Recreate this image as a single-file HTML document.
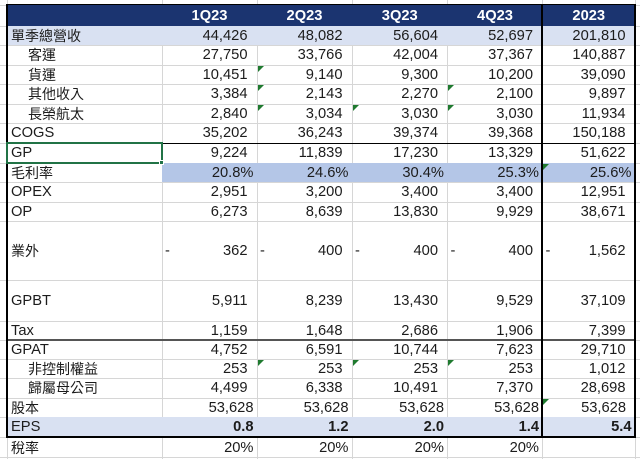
<!DOCTYPE html>
<html><head><meta charset="utf-8">
<style>
*{margin:0;padding:0;box-sizing:border-box}
html,body{width:640px;height:459px;overflow:hidden;background:#fff}
body{position:relative;font-family:"Liberation Sans","Noto Sans CJK TC",sans-serif;font-size:14.7px;color:#1c1c1c}
.h{position:absolute;left:0;width:640px;height:1px;background:#d6d6d6}
.vl{position:absolute;top:0;height:459px;width:1px;background:#d6d6d6}
.fill{position:absolute}
.r{position:absolute;left:0;width:640px}
.c{position:absolute;top:0;bottom:0;display:flex;align-items:center;justify-content:flex-end;padding-right:9.5px;line-height:18px;white-space:nowrap}
.a{left:7px;width:155px;justify-content:flex-start;padding-left:4px;padding-right:0}
.in{padding-left:21px}
.b{left:162px;width:95px}
.cc{left:257px;width:95px}
.d{left:352px;width:95.5px}
.e{left:447.5px;width:95px}
.f{left:542.5px;width:92.5px}
.p .b,.p .cc,.p .d,.p .e,.p .f{padding-right:3.5px}
.cj{font-size:14px}
.sp{justify-content:space-between;padding-left:3px}
.hd .c{color:#fff;font-weight:bold;justify-content:center;padding-right:0}
.bd{font-weight:bold}
.tri{position:absolute;width:0;height:0;border-top:6px solid #1f7a2f;border-right:6px solid transparent}
.blk{position:absolute;background:#000}
</style></head><body>

<!-- gridlines -->
<div class="h" style="top:5px"></div>
<div class="h" style="top:26px"></div>
<div class="h" style="top:45px"></div>
<div class="h" style="top:65px"></div>
<div class="h" style="top:84px"></div>
<div class="h" style="top:104px"></div>
<div class="h" style="top:123px"></div>
<div class="h" style="top:143px"></div>
<div class="h" style="top:163px"></div>
<div class="h" style="top:182px"></div>
<div class="h" style="top:202px"></div>
<div class="h" style="top:221px"></div>
<div class="h" style="top:280px"></div>
<div class="h" style="top:321px"></div>
<div class="h" style="top:340px"></div>
<div class="h" style="top:359px"></div>
<div class="h" style="top:378px"></div>
<div class="h" style="top:398px"></div>
<div class="h" style="top:417px"></div>
<div class="h" style="top:437px"></div>
<div class="h" style="top:457px"></div>
<div class="vl" style="left:7px"></div>
<div class="vl" style="left:162px"></div>
<div class="vl" style="left:257px"></div>
<div class="vl" style="left:352px"></div>
<div class="vl" style="left:447px"></div>
<div class="vl" style="left:542px"></div>
<div class="vl" style="left:635px"></div>

<!-- fills -->
<div class="fill" style="left:7px;top:5px;width:628px;height:21px;background:#1b3470"></div>
<div class="fill" style="left:7px;top:26px;width:628px;height:19px;background:#d9e1f2"></div>
<div class="fill" style="left:162px;top:163px;width:473px;height:19px;background:#b4c6e7"></div>
<div class="fill" style="left:7px;top:417px;width:628px;height:20px;background:#d9e1f2"></div>

<!-- header -->
<div class="r hd" style="top:5px;height:21px">
<div class="c b">1Q23</div><div class="c cc">2Q23</div><div class="c d">3Q23</div><div class="c e">4Q23</div><div class="c f">2023</div>
</div>

<div class="r" style="top:26px;height:19px">
<div class="c a"><span class="cj">單季總營收</span></div><div class="c b">44,426</div><div class="c cc">48,082</div><div class="c d">56,604</div><div class="c e">52,697</div><div class="c f">201,810</div>
</div>
<div class="r" style="top:45px;height:20px">
<div class="c a in"><span class="cj">客運</span></div><div class="c b">27,750</div><div class="c cc">33,766</div><div class="c d">42,004</div><div class="c e">37,367</div><div class="c f">140,887</div>
</div>
<div class="r" style="top:65px;height:19px">
<div class="c a in"><span class="cj">貨運</span></div><div class="c b">10,451</div><div class="c cc">9,140</div><div class="c d">9,300</div><div class="c e">10,200</div><div class="c f">39,090</div>
</div>
<div class="r" style="top:84px;height:20px">
<div class="c a in"><span class="cj">其他收入</span></div><div class="c b">3,384</div><div class="c cc">2,143</div><div class="c d">2,270</div><div class="c e">2,100</div><div class="c f">9,897</div>
</div>
<div class="r" style="top:104px;height:19px">
<div class="c a in"><span class="cj">長榮航太</span></div><div class="c b">2,840</div><div class="c cc">3,034</div><div class="c d">3,030</div><div class="c e">3,030</div><div class="c f">11,934</div>
</div>
<div class="r" style="top:123px;height:20px">
<div class="c a">COGS</div><div class="c b">35,202</div><div class="c cc">36,243</div><div class="c d">39,374</div><div class="c e">39,368</div><div class="c f">150,188</div>
</div>
<div class="r" style="top:143px;height:20px">
<div class="c a">GP</div><div class="c b">9,224</div><div class="c cc">11,839</div><div class="c d">17,230</div><div class="c e">13,329</div><div class="c f">51,622</div>
</div>
<div class="r p" style="top:163px;height:19px">
<div class="c a"><span class="cj">毛利率</span></div><div class="c b">20.8%</div><div class="c cc">24.6%</div><div class="c d">30.4%</div><div class="c e">25.3%</div><div class="c f">25.6%</div>
</div>
<div class="r" style="top:182px;height:20px">
<div class="c a">OPEX</div><div class="c b">2,951</div><div class="c cc">3,200</div><div class="c d">3,400</div><div class="c e">3,400</div><div class="c f">12,951</div>
</div>
<div class="r" style="top:202px;height:19px">
<div class="c a">OP</div><div class="c b">6,273</div><div class="c cc">8,639</div><div class="c d">13,830</div><div class="c e">9,929</div><div class="c f">38,671</div>
</div>
<div class="r" style="top:221px;height:59px">
<div class="c a"><span class="cj">業外</span></div>
<div class="c b sp"><span>-</span><span>362</span></div>
<div class="c cc sp"><span>-</span><span>400</span></div>
<div class="c d sp"><span>-</span><span>400</span></div>
<div class="c e sp"><span>-</span><span>400</span></div>
<div class="c f sp"><span>-</span><span>1,562</span></div>
</div>
<div class="r" style="top:280px;height:41px">
<div class="c a">GPBT</div><div class="c b">5,911</div><div class="c cc">8,239</div><div class="c d">13,430</div><div class="c e">9,529</div><div class="c f">37,109</div>
</div>
<div class="r" style="top:321px;height:19px">
<div class="c a">Tax</div><div class="c b">1,159</div><div class="c cc">1,648</div><div class="c d">2,686</div><div class="c e">1,906</div><div class="c f">7,399</div>
</div>
<div class="r" style="top:340px;height:19px">
<div class="c a">GPAT</div><div class="c b">4,752</div><div class="c cc">6,591</div><div class="c d">10,744</div><div class="c e">7,623</div><div class="c f">29,710</div>
</div>
<div class="r" style="top:359px;height:19px">
<div class="c a in"><span class="cj">非控制權益</span></div><div class="c b">253</div><div class="c cc">253</div><div class="c d">253</div><div class="c e">253</div><div class="c f">1,012</div>
</div>
<div class="r" style="top:378px;height:20px">
<div class="c a in"><span class="cj">歸屬母公司</span></div><div class="c b">4,499</div><div class="c cc">6,338</div><div class="c d">10,491</div><div class="c e">7,370</div><div class="c f">28,698</div>
</div>
<div class="r p" style="top:398px;height:19px">
<div class="c a"><span class="cj">股本</span></div><div class="c b">53,628</div><div class="c cc">53,628</div><div class="c d">53,628</div><div class="c e">53,628</div><div class="c f" style="padding-right:9px">53,628</div>
</div>
<div class="r p" style="top:417px;height:20px">
<div class="c a">EPS</div><div class="c b bd">0.8</div><div class="c cc bd">1.2</div><div class="c d bd">2.0</div><div class="c e bd">1.4</div><div class="c f bd">5.4</div>
</div>
<div class="r p" style="top:438px;height:19px">
<div class="c a"><span class="cj">稅率</span></div><div class="c b">20%</div><div class="c cc">20%</div><div class="c d">20%</div><div class="c e">20%</div>
</div>

<!-- borders -->
<div class="blk" style="left:7px;top:143px;width:628px;height:1px"></div>
<div class="blk" style="left:7px;top:339px;width:628px;height:2px;background:#555"></div>
<div class="blk" style="left:6px;top:5px;width:2px;height:433px"></div>
<div class="blk" style="left:634px;top:5px;width:2px;height:433px"></div>
<div class="blk" style="left:541px;top:5px;width:2px;height:433px"></div>
<div class="blk" style="left:6px;top:436px;width:630px;height:2px"></div>
<div class="blk" style="left:6px;top:4px;width:630px;height:1px"></div>

<!-- selection -->
<div style="position:absolute;left:6px;top:142px;width:157px;height:22px;border:2px solid #217346"></div>
<div style="position:absolute;left:159px;top:160px;width:5px;height:5px;background:#217346;border:1px solid #fff"></div>

<!-- triangles -->
<div class="tri" style="left:258px;top:66px"></div>
<div class="tri" style="left:258px;top:85px"></div>
<div class="tri" style="left:258px;top:105px"></div>
<div class="tri" style="left:258px;top:360px"></div>
<div class="tri" style="left:353px;top:105px"></div>
<div class="tri" style="left:353px;top:360px"></div>
<div class="tri" style="left:448px;top:85px"></div>
<div class="tri" style="left:448px;top:105px"></div>
<div class="tri" style="left:448px;top:360px"></div>
<div class="tri" style="left:543px;top:164px"></div>
<div class="tri" style="left:543px;top:399px"></div>

</body></html>
